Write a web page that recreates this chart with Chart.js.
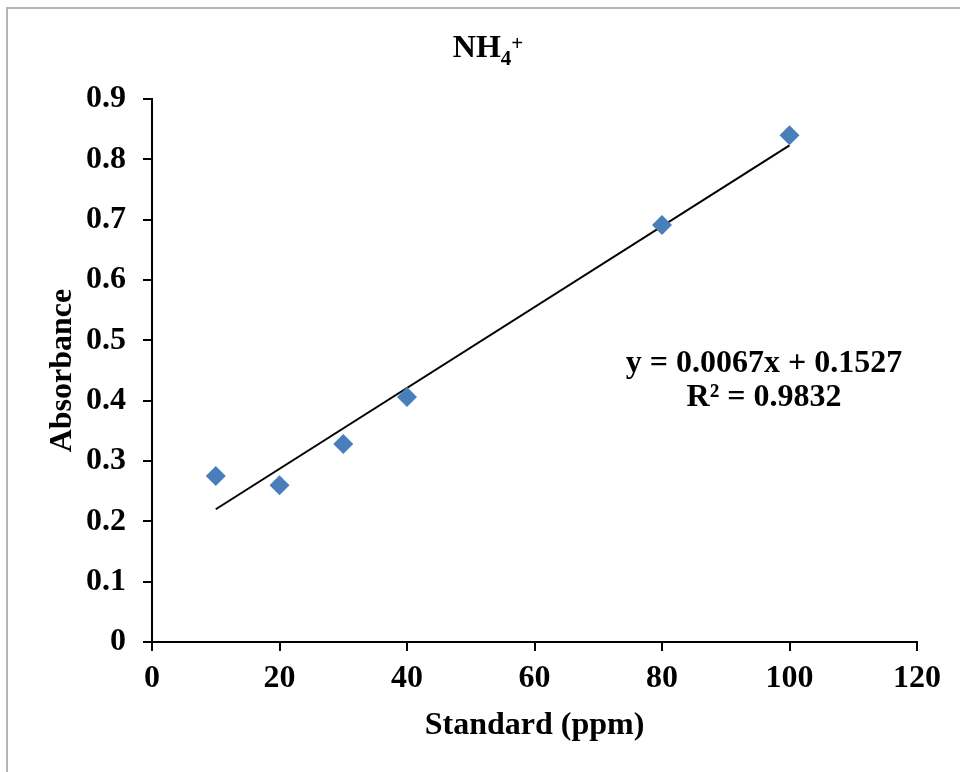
<!DOCTYPE html>
<html lang="en">
<head>
  <meta charset="UTF-8">
  <title>NH4+ calibration</title>
  <script src="https://cdn.jsdelivr.net/npm/chart.js"></script>
  <style>
    body {
      margin: 0;
      overflow: hidden;
      background: #fff;
    }
    canvas {
      display: block;
    }
  </style>
</head>
<body>

  <canvas id="calChart" width="960" height="772"></canvas>

  <script>
    // Standard concentration (ppm) and measured absorbance
    const standardPpm = [10, 20, 30, 40, 80, 100];
    const absorbance = [0.275, 0.260, 0.328, 0.406, 0.691, 0.840];

    // Linear trendline ends, as drawn
    const trendX = [10, 100];
    const trendY = [0.22, 0.823];

    const equationLines = ['y = 0.0067x + 0.1527', 'R\u00B2 = 0.9832'];

    const serif = '"Liberation Serif", "Times New Roman", serif';
    Chart.defaults.color = '#000';

    const scatterPoints = standardPpm.map((x, i) => ({ x: x, y: absorbance[i] }));
    const trendPoints = trendX.map((x, i) => ({ x: x, y: trendY[i] }));

    // frame, title with sub/superscript, equation text
    const extras = {
      id: 'extras',
      beforeDraw(chart) {
        const ctx = chart.ctx;
        ctx.save();
        ctx.fillStyle = '#b5b5b5';
        ctx.fillRect(6, 7, 2, 772);
        ctx.fillRect(6, 7, 960, 2);
        ctx.restore();
      },
      afterDraw(chart) {
        const ctx = chart.ctx;
        ctx.save();
        ctx.fillStyle = '#000';
        ctx.textBaseline = 'alphabetic';

        // title NH4+
        ctx.font = 'bold 32px ' + serif;
        const nh = 'NH';
        const wNH = ctx.measureText(nh).width;
        ctx.font = 'bold 21px ' + serif;
        const w4 = ctx.measureText('4').width;
        const wPlus = ctx.measureText('+').width;
        let x = 488 - (wNH + w4 + wPlus) / 2;
        ctx.font = 'bold 32px ' + serif;
        ctx.textAlign = 'left';
        ctx.fillText(nh, x, 57);
        x += wNH;
        ctx.font = 'bold 21px ' + serif;
        ctx.fillText('4', x, 65);
        x += w4;
        ctx.fillText('+', x, 50);

        // trendline equation
        ctx.font = 'bold 32px ' + serif;
        ctx.textAlign = 'center';
        ctx.fillText(equationLines[0], 764, 372);
        ctx.fillText(equationLines[1], 764, 406);
        ctx.restore();
      }
    };

    new Chart(document.getElementById('calChart'), {
      type: 'scatter',
      data: {
        datasets: [
          {
            label: 'Absorbance',
            data: scatterPoints,
            pointStyle: 'rectRot',
            pointRadius: 10,
            pointHoverRadius: 10,
            backgroundColor: '#4a7ebb',
            borderColor: '#4a7ebb',
            borderWidth: 0
          },
          {
            label: 'Linear',
            type: 'line',
            data: trendPoints,
            showLine: true,
            borderColor: '#000',
            borderWidth: 2,
            pointRadius: 0,
            fill: false
          }
        ]
      },
      options: {
        responsive: false,
        animation: false,
        layout: {
          padding: { top: 99, right: 43, bottom: 0, left: 0 }
        },
        plugins: {
          legend: { display: false },
          tooltip: { enabled: false }
        },
        scales: {
          x: {
            type: 'linear',
            min: 0,
            max: 120,
            afterFit: s => { s.height = 130; },
            ticks: {
              stepSize: 20,
              padding: 9,
              font: { family: serif, size: 32, weight: 'bold' }
            },
            grid: {
              drawOnChartArea: false,
              tickLength: 9,
              color: '#000',
              lineWidth: 2
            },
            border: { color: '#000', width: 2 },
            title: {
              display: true,
              text: 'Standard (ppm)',
              padding: { top: 0, bottom: 27 },
              font: { family: serif, size: 32, weight: 'bold' }
            }
          },
          y: {
            min: 0,
            max: 0.9,
            afterFit: s => { s.width = 152; },
            ticks: {
              stepSize: 0.1,
              padding: 17,
              font: { family: serif, size: 32, weight: 'bold' },
              callback: v => v === 0 ? '0' : v.toFixed(1)
            },
            grid: {
              drawOnChartArea: false,
              tickLength: 9,
              color: '#000',
              lineWidth: 2
            },
            border: { color: '#000', width: 2 },
            title: {
              display: true,
              text: 'Absorbance',
              padding: { top: 44, bottom: 0 },
              font: { family: serif, size: 32, weight: 'bold' }
            }
          }
        }
      },
      plugins: [extras]
    });
  </script>

</body>
</html>
